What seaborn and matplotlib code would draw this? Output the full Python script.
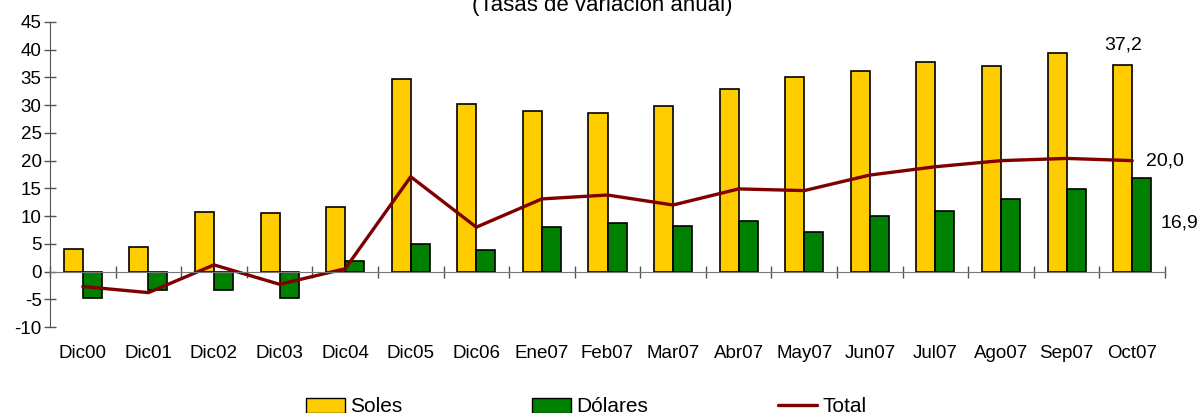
import numpy as np
import pandas as pd
import matplotlib
matplotlib.use("Agg")
import matplotlib.pyplot as plt
import seaborn as sns
from matplotlib.patches import Patch
from matplotlib.lines import Line2D

# Data (tasas de variación anual)
meses = ["Dic00", "Dic01", "Dic02", "Dic03", "Dic04", "Dic05", "Dic06", "Ene07", "Feb07",
         "Mar07", "Abr07", "May07", "Jun07", "Jul07", "Ago07", "Sep07", "Oct07"]
soles = [4.1, 4.4, 10.8, 10.5, 11.6, 34.7, 30.3, 28.9, 28.6,
         29.8, 33.0, 35.0, 36.1, 37.8, 37.1, 39.4, 37.2]
dolares = [-4.7, -3.3, -3.3, -4.7, 1.9, 5.0, 3.9, 8.0, 8.8,
           8.3, 9.1, 7.1, 10.0, 11.0, 13.1, 14.9, 16.9]
total = [-2.7, -3.8, 1.2, -2.3, 0.5, 17.1, 8.0, 13.1, 13.8,
         12.0, 14.9, 14.6, 17.4, 18.9, 20.0, 20.4, 20.0]

col_soles = "#FFCC00"
col_dolares = "#008000"
col_total = "#800000"

df = pd.DataFrame({"mes": meses * 2,
                   "valor": soles + dolares,
                   "serie": ["Soles"] * len(meses) + ["Dólares"] * len(meses)})

sns.set_style("white")
plt.rcParams["font.family"] = ["Liberation Sans", "DejaVu Sans"]
plt.rcParams["axes.unicode_minus"] = False
plt.rcParams["text.color"] = "black"
plt.rcParams["xtick.color"] = "black"
plt.rcParams["ytick.color"] = "black"

fig = plt.figure(figsize=(12, 4.13), dpi=100)
ax = fig.add_axes([50 / 1200, 86 / 413, 1115 / 1200, 305 / 413])

sns.barplot(data=df, x="mes", y="valor", hue="serie", order=meses,
            palette={"Soles": col_soles, "Dólares": col_dolares}, saturation=1,
            width=0.58, edgecolor="black", linewidth=1.2, ax=ax, legend=False)
sns.lineplot(x=np.arange(len(meses)), y=total, color=col_total, linewidth=2.4, ax=ax)

ax.set_xlim(-0.5, len(meses) - 0.5)
ax.set_ylim(-10, 45)
ax.set_yticks(range(-10, 50, 5))
ax.set_xlabel("")
ax.set_ylabel("")

for s in ["top", "right"]:
    ax.spines[s].set_visible(False)
ax.spines["left"].set_color("#555555")
ax.spines["bottom"].set_color("#777777")
ax.spines["bottom"].set_position(("data", 0))

ax.set_xticks(np.arange(len(meses)))
ax.set_xticklabels(meses)
ax.set_xticks(np.arange(len(meses) + 1) - 0.5, minor=True)
ax.tick_params(axis="x", which="major", bottom=True, length=0, pad=53, labelsize=13.5)
ax.tick_params(axis="x", which="minor", bottom=True, direction="inout", length=9,
               width=1, color="#555555")
ax.tick_params(axis="y", left=True, direction="inout", length=8, width=1,
               color="#555555", labelsize=13.5, pad=2)

# Labels at the last point
ax.text(16 - 0.14, soles[-1] + 3.6, f"{soles[-1]:.1f}".replace(".", ","),
        ha="center", va="center", fontsize=14)
ax.text(16.21, total[-1], f"{total[-1]:.1f}".replace(".", ","),
        ha="left", va="center", fontsize=14)
ax.text(16.43, dolares[-1] - 8.2, f"{dolares[-1]:.1f}".replace(".", ","),
        ha="left", va="center", fontsize=14)

fig.text(602 / 1200, 1 - 11 / 413, "(Tasas de variación anual)", ha="center",
         va="baseline", fontsize=16)

handles = [Patch(facecolor=col_soles, edgecolor="black", label="Soles"),
           Patch(facecolor=col_dolares, edgecolor="black", label="Dólares"),
           Line2D([], [], color=col_total, linewidth=2.4, label="Total")]
fig.legend(handles=handles, loc="center", bbox_to_anchor=(586 / 1200, 6 / 413),
           ncol=3, frameon=False, fontsize=15, handlelength=1.9, handleheight=0.7,
           handletextpad=0.25, columnspacing=6.2, borderpad=0)

plt.savefig("out.png", dpi=100)
